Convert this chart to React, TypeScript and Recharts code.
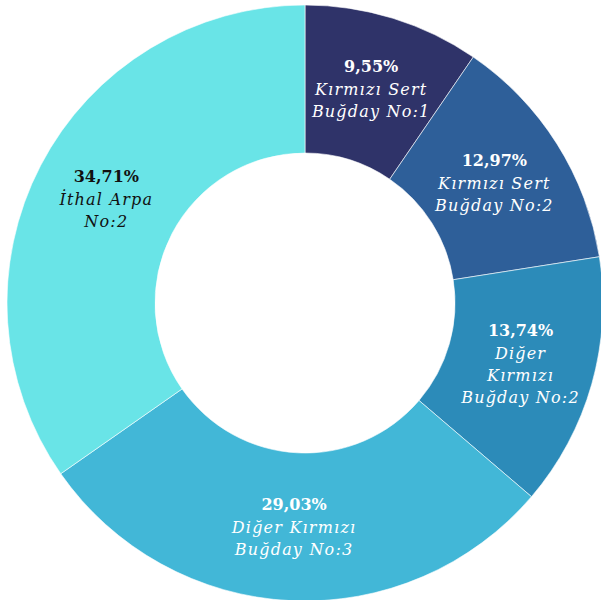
import React from "react";
import { PieChart, Pie, Cell } from "recharts";

const categories = [
  "Kırmızı Sert Buğday No:1",
  "Kırmızı Sert Buğday No:2",
  "Diğer Kırmızı Buğday No:2",
  "Diğer Kırmızı Buğday No:3",
  "İthal Arpa No:2",
];
const shares = [9.55, 12.97, 13.74, 29.03, 34.71];
const labelLines = [
  ["Kırmızı Sert", "Buğday No:1"],
  ["Kırmızı Sert", "Buğday No:2"],
  ["Diğer", "Kırmızı", "Buğday No:2"],
  ["Diğer Kırmızı", "Buğday No:3"],
  ["İthal Arpa", "No:2"],
];
const colors = ["#2f3369", "#2e5f99", "#2c8bb9", "#42b7d7", "#69e4e7"];
const textColors = ["#ffffff", "#ffffff", "#ffffff", "#ffffff", "#111111"];

const data = categories.map((name, i) => ({ name, value: shares[i], idx: i }));
const total = shares.reduce((a, b) => a + b, 0);

const RAD = Math.PI / 180;
const FONT = "'DejaVu Serif', serif";

const renderLabel = (props: any) => {
  const { cx, cy, midAngle, innerRadius, outerRadius, index, value } = props;
  const r = (innerRadius + outerRadius) / 2;
  const x = cx + r * Math.cos(-midAngle * RAD);
  const y = cy + r * Math.sin(-midAngle * RAD);
  const lines = labelLines[index];
  const pct = ((value / total) * 100).toFixed(2).replace(".", ",") + "%";
  const first = 23;
  const lh = 22;
  const height = first + (lines.length - 1) * lh;
  const top = y - height / 2;
  const fill = textColors[index];
  return (
    <g>
      <text
        x={x}
        y={top}
        textAnchor="middle"
        dominantBaseline="central"
        fill={fill}
        style={{ fontFamily: FONT, fontWeight: "bold", fontSize: 16 }}
      >
        {pct}
      </text>
      {lines.map((l, k) => (
        <text
          key={k}
          x={x}
          y={top + first + k * lh}
          textAnchor="middle"
          dominantBaseline="central"
          fill={fill}
          style={{ fontFamily: FONT, fontStyle: "italic", fontSize: 16, letterSpacing: 1.2 }}
        >
          {l}
        </text>
      ))}
    </g>
  );
};

export default function App() {
  return (
    <div style={{ position: "absolute", left: 0, top: 0, width: 601, height: 600, background: "#fff" }}>
      <PieChart width={601} height={600} margin={{ top: 0, right: 0, bottom: 0, left: 0 }}>
        <Pie
          data={data}
          dataKey="value"
          nameKey="name"
          cx={305}
          cy={303}
          innerRadius={150}
          outerRadius={298}
          startAngle={90}
          endAngle={-270}
          stroke="#ffffff"
          strokeWidth={0.6}
          label={renderLabel}
          labelLine={false}
          isAnimationActive={false}
        >
          {data.map((d, i) => (
            <Cell key={i} fill={colors[i]} />
          ))}
        </Pie>
      </PieChart>
    </div>
  );
}
